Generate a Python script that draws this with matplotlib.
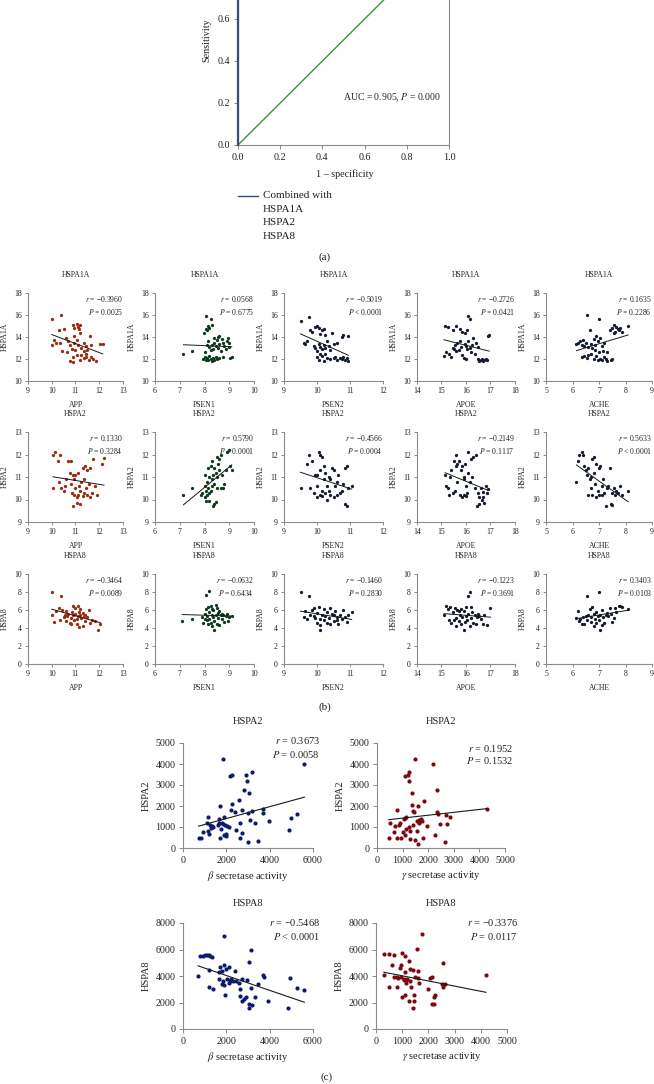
import numpy as np
import matplotlib.pyplot as plt
from matplotlib.lines import Line2D

W, H = 654, 1084
plt.rcParams['font.family'] = ['Liberation Serif', 'DejaVu Serif']
plt.rcParams['mathtext.fontset'] = 'stix'

# ---------------- data: (a) ROC ----------------
roc_fpr = [0.0, 0.0, 0.1, 0.3, 1.0]
roc_tpr = [0.0, 0.78, 0.9, 0.97, 1.0]
ref_fpr = [0.0, 1.0]
ref_tpr = [0.0, 1.0]
roc_yticks = [0.0, 0.2, 0.4, 0.6]  # upper ticks fall outside the cropped figure

# ---------------- data: (b) HSP vs gene expression ----------------
genes = ['APP', 'PSEN1', 'PSEN2', 'APOE', 'ACHE']
hsps = ['HSPA1A', 'HSPA2', 'HSPA8']
gene_xticks = [[9, 10, 11, 12, 13], [6, 7, 8, 9, 10], [9, 10, 11, 12],
               [14, 15, 16, 17, 18], [5, 6, 7, 8, 9]]
hsp_yticks = [[10, 12, 14, 16, 18], [9, 10, 11, 12, 13], [0, 2, 4, 6, 8, 10]]

hspa1a_app = [(10.0, 15.6), (10.4, 16.0), (10.3, 14.65), (10.5, 14.75), (10.1, 13.7), (10.2, 13.5),
              (10.0, 13.3), (10.35, 13.5), (10.45, 12.7), (10.6, 13.9), (10.7, 13.6), (10.75, 13.3),
              (10.65, 12.6), (10.85, 12.9), (10.75, 11.8), (10.9, 12.2), (10.9, 15.1), (10.95, 14.8),
              (11.05, 15.2), (11.1, 14.95), (11.2, 15.1), (11.15, 14.7), (11.2, 14.35), (10.95, 14.05),
              (11.05, 13.75), (10.95, 13.45), (11.1, 13.3), (11.25, 13.0), (11.0, 12.85), (11.05, 12.4),
              (11.2, 11.9), (11.35, 12.1), (11.45, 12.2), (11.55, 11.9), (11.65, 12.15), (11.75, 12.0),
              (11.85, 11.85), (11.35, 13.45), (11.45, 13.15), (11.5, 12.85), (11.35, 12.7), (11.6, 14.05),
              (11.65, 13.25), (12.05, 13.35), (12.15, 13.35), (10.9, 11.75), (11.25, 12.35), (11.45, 12.5)]
hspa1a_psen1 = [(7.15, 12.5), (7.5, 12.7), (7.95, 12.0), (8.0, 12.2), (8.05, 11.9), (8.1, 12.1),
                (8.15, 11.95), (8.2, 12.3), (8.25, 12.0), (8.3, 11.8), (8.35, 12.1), (8.4, 11.9),
                (8.45, 12.2), (8.5, 12.0), (8.6, 12.1), (8.75, 12.2), (9.05, 12.1), (9.1, 12.2),
                (7.98, 14.4), (8.05, 14.7), (8.1, 14.6), (8.15, 15.0), (8.2, 14.8), (8.05, 15.9),
                (8.25, 15.6), (8.3, 15.1), (8.2, 13.1), (8.25, 12.8), (8.3, 13.3), (8.35, 12.9),
                (8.4, 13.5), (8.45, 13.2), (8.5, 13.7), (8.55, 13.0), (8.6, 13.4), (8.55, 14.0),
                (8.6, 14.1), (8.7, 13.8), (8.75, 13.5), (8.8, 13.2), (8.9, 13.6), (8.95, 13.9),
                (9.0, 13.1), (8.85, 12.9), (8.65, 12.7), (8.1, 13.3), (8.15, 13.6), (8.0, 12.6),
                (9.0, 13.5), (8.4, 13.9)]
hspa1a_psen2 = [(9.5, 15.5), (9.75, 15.8), (9.6, 13.5), (9.65, 13.4), (9.7, 13.6), (9.8, 14.6),
                (9.85, 14.5), (9.95, 14.9), (10.0, 15.0), (10.05, 14.8), (10.1, 14.3), (10.15, 14.6),
                (10.2, 14.7), (10.25, 14.2), (9.9, 13.2), (9.95, 13.0), (10.0, 12.7), (10.05, 13.4),
                (10.1, 13.1), (10.15, 12.9), (10.2, 13.3), (10.25, 13.0), (10.3, 13.6), (10.35, 13.2),
                (10.4, 12.8), (10.45, 14.4), (10.0, 12.2), (10.05, 11.9), (10.1, 12.5), (10.15, 12.3),
                (10.3, 12.1), (10.4, 12.0), (10.5, 12.1), (10.55, 12.2), (10.6, 11.95), (10.7, 12.1),
                (10.75, 12.0), (10.8, 12.2), (10.85, 11.9), (10.9, 12.1), (10.95, 11.8), (10.6, 13.5),
                (10.75, 14.0), (10.8, 14.2), (10.95, 14.1), (10.5, 13.4), (10.25, 12.5), (10.2, 11.8)]
hspa1a_apoe = [(15.15, 15.0), (15.25, 14.9), (15.45, 14.6), (15.6, 15.0), (15.75, 14.7), (15.85, 14.5),
               (15.95, 14.4), (16.05, 14.6), (16.1, 15.9), (16.15, 15.6), (15.1, 12.3), (15.2, 12.6),
               (15.3, 12.5), (15.4, 12.2), (15.5, 12.9), (15.55, 13.3), (15.6, 12.7), (15.65, 13.5),
               (15.7, 12.8), (15.75, 13.6), (15.8, 13.1), (15.85, 12.4), (15.9, 12.1), (15.95, 13.4),
               (16.0, 13.2), (16.05, 12.9), (16.1, 13.6), (16.15, 13.0), (16.2, 12.6), (16.25, 13.3),
               (16.3, 13.9), (16.35, 12.5), (16.4, 13.5), (16.5, 12.0), (16.55, 11.8), (16.6, 11.9),
               (16.65, 12.0), (16.7, 11.85), (16.75, 11.9), (16.8, 12.0), (16.85, 11.9), (16.9, 14.1),
               (16.95, 14.2), (16.0, 12.0), (16.5, 13.1), (15.45, 13.0)]
hspa1a_ache = [(6.15, 13.4), (6.2, 13.5), (6.3, 13.6), (6.35, 13.3), (6.4, 13.7), (6.45, 13.2),
               (6.5, 13.5), (6.55, 16.0), (6.6, 13.1), (6.65, 14.6), (6.7, 13.4), (6.75, 13.0),
               (6.8, 13.8), (6.85, 13.3), (6.9, 14.1), (6.95, 13.6), (7.0, 15.6), (7.05, 13.9),
               (7.1, 13.2), (7.15, 12.7), (6.35, 12.2), (6.45, 12.3), (6.55, 12.1), (6.6, 12.4),
               (6.7, 12.5), (6.8, 12.0), (6.9, 12.3), (6.95, 11.9), (7.0, 12.6), (7.05, 12.0),
               (7.1, 11.9), (7.2, 12.2), (7.25, 12.0), (7.3, 11.8), (7.45, 11.9), (7.5, 12.0),
               (7.3, 12.6), (7.4, 14.6), (7.5, 14.8), (7.55, 15.1), (7.6, 14.5), (7.65, 14.9),
               (7.7, 14.7), (7.75, 14.6), (7.8, 14.8), (7.85, 14.5), (8.1, 15.0), (7.55, 14.4),
               (7.2, 13.5), (6.85, 12.8)]

hspa2_app = [(10.05, 12.0), (10.15, 12.1), (10.35, 12.0), (10.25, 11.7), (10.05, 10.5), (10.3, 10.8),
             (10.4, 10.5), (10.5, 10.4), (10.55, 10.6), (10.6, 10.9), (10.7, 11.7), (10.8, 11.7),
             (10.75, 11.2), (10.8, 10.7), (10.85, 10.3), (10.9, 11.1), (10.95, 10.9), (11.0, 11.1),
             (11.0, 10.5), (10.95, 10.2), (10.9, 9.7), (11.05, 9.85), (11.1, 11.2), (11.1, 10.2),
             (11.15, 10.6), (11.2, 10.4), (11.2, 9.8), (11.25, 10.8), (11.3, 11.4), (11.35, 10.3),
             (11.35, 10.9), (11.4, 11.5), (11.45, 10.5), (11.5, 11.3), (11.5, 10.2), (11.55, 10.7),
             (11.6, 11.4), (11.7, 10.3), (11.75, 11.8), (11.8, 10.6), (11.9, 10.2), (12.1, 11.6),
             (12.2, 11.85), (11.05, 10.1), (11.3, 10.15), (11.6, 10.1)]
hspa2_psen1 = [(7.15, 10.2), (7.5, 10.5), (7.85, 10.2), (7.9, 10.3), (8.0, 10.1), (8.0, 10.6),
               (8.05, 10.4), (8.1, 10.2), (8.1, 10.8), (8.15, 10.5), (8.2, 10.3), (8.2, 11.0),
               (8.25, 10.4), (8.25, 11.5), (8.3, 10.6), (8.3, 10.9), (8.35, 9.7), (8.35, 11.1),
               (8.4, 9.8), (8.4, 11.4), (8.45, 11.2), (8.45, 9.9), (8.5, 11.0), (8.5, 11.9),
               (8.55, 11.6), (8.6, 11.3), (8.6, 11.8), (8.65, 10.5), (8.7, 11.1), (8.75, 10.5),
               (8.8, 10.7), (8.85, 11.3), (8.9, 12.1), (9.0, 12.2), (9.05, 11.5), (9.1, 11.3),
               (8.0, 11.1), (8.15, 11.4), (8.05, 9.95), (8.5, 10.5), (8.4, 10.7), (8.2, 9.95),
               (8.65, 12.0), (8.3, 11.7)]
hspa2_psen2 = [(9.5, 10.5), (9.7, 11.6), (9.75, 12.0), (9.8, 10.5), (9.85, 11.7), (9.9, 10.3),
               (9.95, 11.1), (10.0, 10.6), (10.0, 11.1), (10.05, 12.1), (10.1, 12.0), (10.1, 11.3),
               (10.1, 10.2), (10.15, 11.9), (10.15, 10.4), (10.2, 11.5), (10.2, 10.9), (10.25, 10.3),
               (10.25, 11.2), (10.3, 10.0), (10.35, 10.4), (10.35, 11.0), (10.4, 10.2), (10.45, 11.4),
               (10.5, 10.1), (10.5, 11.3), (10.55, 10.6), (10.6, 10.2), (10.65, 11.1), (10.7, 10.3),
               (10.75, 10.4), (10.8, 10.7), (10.85, 11.4), (10.85, 9.8), (10.9, 11.5), (10.9, 9.7),
               (10.95, 10.5), (11.05, 10.6), (10.4, 10.9), (10.0, 10.1), (10.15, 10.15), (10.6, 10.8),
               (10.3, 10.6)]
hspa2_apoe = [(15.15, 11.1), (15.2, 10.6), (15.25, 10.5), (15.3, 10.2), (15.35, 11.0), (15.4, 11.3),
              (15.45, 10.3), (15.5, 11.7), (15.55, 10.4), (15.6, 12.0), (15.6, 11.5), (15.65, 10.8),
              (15.7, 11.7), (15.75, 10.2), (15.8, 11.3), (15.85, 11.5), (15.85, 10.1), (15.9, 11.0),
              (15.9, 10.9), (15.95, 11.6), (16.0, 10.6), (16.05, 10.3), (16.1, 12.1), (16.1, 11.2),
              (16.15, 10.8), (16.2, 11.8), (16.25, 11.0), (16.3, 11.9), (16.35, 10.5), (16.4, 12.0),
              (16.45, 9.7), (16.5, 10.3), (16.55, 10.1), (16.55, 9.8), (16.6, 10.5), (16.65, 10.0),
              (16.7, 10.1), (16.75, 9.85), (16.8, 10.6), (16.85, 10.3), (16.9, 10.45), (16.7, 10.35),
              (15.65, 11.6), (16.0, 10.15), (15.9, 10.2)]
hspa2_ache = [(6.15, 10.8), (6.2, 11.7), (6.25, 12.0), (6.35, 12.1), (6.4, 12.0), (6.45, 11.5),
              (6.5, 11.3), (6.55, 11.1), (6.6, 11.4), (6.65, 10.9), (6.7, 11.0), (6.7, 10.5),
              (6.75, 11.8), (6.75, 10.2), (6.8, 11.9), (6.8, 11.2), (6.85, 10.7), (6.9, 11.6),
              (6.95, 10.4), (7.0, 10.2), (7.0, 11.4), (7.05, 11.5), (7.1, 10.6), (7.1, 10.2),
              (7.15, 10.9), (7.2, 10.3), (7.25, 9.7), (7.3, 10.5), (7.35, 10.6), (7.4, 11.4),
              (7.45, 9.8), (7.5, 10.3), (7.5, 9.75), (7.55, 10.5), (7.6, 10.2), (7.65, 10.4),
              (7.7, 10.3), (7.8, 10.6), (7.85, 10.2), (8.1, 10.4), (6.6, 10.2), (6.9, 10.1)]

hspa8_app = [(10.0, 8.0), (10.4, 7.6), (10.0, 5.4), (10.1, 4.7), (10.2, 5.9), (10.3, 6.2),
             (10.35, 4.9), (10.45, 6.0), (10.5, 5.2), (10.55, 5.5), (10.6, 4.8), (10.65, 5.3),
             (10.7, 5.6), (10.75, 4.6), (10.8, 5.1), (10.85, 5.8), (10.9, 5.4), (10.9, 6.5),
             (10.95, 4.9), (11.0, 5.6), (11.0, 6.2), (11.05, 5.0), (11.1, 6.4), (11.1, 5.3),
             (11.15, 5.8), (11.15, 4.1), (11.2, 5.5), (11.2, 6.1), (11.25, 5.1), (11.3, 4.2),
             (11.3, 5.7), (11.35, 5.3), (11.4, 4.8), (11.5, 5.2), (11.55, 6.0), (11.6, 4.6),
             (11.7, 4.9), (11.8, 4.8), (11.95, 3.8), (12.05, 4.4), (10.8, 4.5), (11.4, 5.5),
             (10.6, 5.9), (11.05, 4.5)]
hspa8_psen1 = [(7.1, 4.75), (7.5, 5.0), (8.05, 7.7), (8.2, 8.1), (7.9, 5.2), (7.95, 4.6),
               (8.0, 5.6), (8.05, 6.1), (8.1, 4.9), (8.1, 5.3), (8.15, 6.3), (8.15, 4.4),
               (8.2, 5.8), (8.2, 5.0), (8.25, 4.6), (8.25, 6.4), (8.3, 5.5), (8.3, 4.2),
               (8.35, 6.0), (8.35, 5.2), (8.4, 3.8), (8.4, 4.8), (8.45, 6.6), (8.45, 5.4),
               (8.5, 4.5), (8.5, 6.2), (8.55, 5.1), (8.6, 5.9), (8.6, 4.3), (8.65, 5.5),
               (8.7, 5.0), (8.75, 5.4), (8.8, 4.7), (8.85, 5.3), (8.9, 5.6), (8.95, 4.8),
               (9.0, 5.2), (9.1, 5.3), (8.0, 5.0), (8.3, 6.1), (8.55, 5.7), (8.7, 5.6)]
hspa8_psen2 = [(9.5, 8.0), (9.75, 7.6), (9.6, 5.2), (9.65, 5.9), (9.7, 5.0), (9.8, 5.4),
               (9.85, 6.0), (9.9, 6.2), (9.95, 5.1), (10.0, 4.6), (10.0, 5.7), (10.05, 6.3),
               (10.1, 4.3), (10.1, 3.8), (10.15, 5.5), (10.2, 4.9), (10.2, 6.1), (10.25, 5.3),
               (10.3, 4.6), (10.3, 5.8), (10.35, 5.1), (10.4, 4.4), (10.4, 6.2), (10.45, 5.6),
               (10.5, 4.8), (10.5, 5.4), (10.55, 5.9), (10.6, 5.2), (10.65, 4.5), (10.7, 5.5),
               (10.75, 5.0), (10.8, 6.0), (10.85, 5.2), (10.9, 4.7), (10.95, 5.5), (11.05, 5.8),
               (10.1, 5.0), (10.6, 4.9), (9.9, 5.3)]
hspa8_apoe = [(15.1, 5.5), (15.2, 6.4), (15.25, 6.1), (15.3, 4.9), (15.35, 6.3), (15.4, 4.6),
              (15.45, 5.8), (15.5, 4.9), (15.55, 6.2), (15.6, 4.2), (15.6, 5.1), (15.65, 6.0),
              (15.7, 4.8), (15.75, 5.5), (15.8, 6.1), (15.8, 4.5), (15.85, 5.2), (15.9, 3.8),
              (15.9, 5.9), (15.95, 4.7), (16.0, 5.3), (16.0, 6.3), (16.05, 4.9), (16.1, 7.6),
              (16.1, 5.6), (16.15, 8.0), (16.15, 4.2), (16.2, 5.1), (16.25, 5.8), (16.3, 4.6),
              (16.35, 5.4), (16.4, 4.4), (16.45, 5.2), (16.5, 5.6), (16.55, 5.3), (16.6, 5.0),
              (16.7, 4.5), (16.75, 5.4), (16.85, 4.3), (17.0, 6.2), (16.2, 6.3), (15.7, 5.9)]
hspa8_ache = [(6.15, 5.1), (6.2, 5.9), (6.25, 4.8), (6.3, 5.0), (6.35, 4.5), (6.4, 5.2),
              (6.45, 4.4), (6.5, 5.3), (6.55, 7.6), (6.55, 4.9), (6.6, 5.5), (6.65, 6.1),
              (6.7, 4.7), (6.7, 5.2), (6.75, 6.3), (6.8, 4.2), (6.8, 5.6), (6.85, 5.0),
              (6.9, 4.6), (6.9, 5.8), (6.95, 5.3), (7.0, 8.0), (7.0, 4.9), (7.05, 3.8),
              (7.05, 5.5), (7.1, 4.3), (7.1, 6.0), (7.15, 5.2), (7.2, 4.6), (7.25, 5.4),
              (7.3, 5.7), (7.35, 5.3), (7.4, 6.2), (7.5, 4.7), (7.55, 5.1), (7.6, 6.2),
              (7.65, 5.8), (7.75, 6.4), (7.8, 6.5), (7.85, 6.3), (8.1, 6.1), (7.45, 5.6)]

b_points = [[hspa1a_app, hspa1a_psen1, hspa1a_psen2, hspa1a_apoe, hspa1a_ache],
            [hspa2_app, hspa2_psen1, hspa2_psen2, hspa2_apoe, hspa2_ache],
            [hspa8_app, hspa8_psen1, hspa8_psen2, hspa8_apoe, hspa8_ache]]
b_r = [['−0.3960', '0.0568', '−0.5019', '−0.2726', '0.1635'],
       ['0.1330', '0.5790', '−0.4566', '−0.2149', '0.5633'],
       ['−0.3464', '−0.0632', '−0.1460', '−0.1223', '0.3403']]
b_p = [['= 0.0025', '= 0.6775', '< 0.0001', '= 0.0421', '= 0.2286'],
       ['= 0.3284', '< 0.0001', '= 0.0004', '= 0.1117', '< 0.0001'],
       ['= 0.0089', '= 0.6434', '= 0.2830', '= 0.3691', '= 0.0103']]

# ---------------- data: (c) HSP vs secretase activity ----------------
beta_hspa2 = [(720, 500), (850, 500), (900, 780), (1100, 1200), (1150, 800), (1150, 1500), (1200, 650),
              (1250, 1100), (1300, 950), (1350, 1050), (1400, 1000), (1650, 1200), (1650, 1400),
              (1700, 480), (1700, 2000), (1750, 900), (1800, 1200), (1850, 4250), (1900, 1500),
              (1900, 600), (1950, 1100), (2000, 550), (2000, 650), (2100, 1000), (2150, 3450),
              (2200, 1800), (2250, 3500), (2250, 2100), (2400, 1700), (2450, 850), (2600, 2300),
              (2650, 1200), (2650, 500), (2700, 700), (2700, 1800), (2800, 2750), (2900, 3500),
              (2950, 3200), (3000, 300), (3000, 1650), (3050, 2600), (3100, 1350), (3200, 3600),
              (3200, 1750), (3300, 1200), (3450, 350), (3700, 1850), (3700, 1650), (3950, 1300),
              (4900, 850), (5000, 1450), (5250, 1600), (5600, 4000), (1850, 1150), (2050, 1050),
              (1600, 1100)]
gamma_hspa2 = [(460, 480), (500, 1200), (650, 750), (700, 1050), (800, 500), (800, 1800), (850, 1100),
               (900, 1200), (950, 500), (1000, 750), (1050, 1400), (1100, 3450), (1100, 600),
               (1150, 1500), (1150, 900), (1200, 3500), (1250, 3600), (1250, 3200), (1250, 1000),
               (1300, 450), (1300, 800), (1350, 2600), (1350, 2050), (1400, 1750), (1400, 1100),
               (1450, 1700), (1500, 4250), (1500, 400), (1550, 1300), (1550, 800), (1600, 2000),
               (1600, 200), (1650, 1200), (1700, 1400), (1750, 1300), (1800, 500), (1850, 2250),
               (1950, 1050), (2200, 4000), (2250, 600), (2350, 2750), (2350, 1700), (2400, 1600),
               (2450, 1150), (2650, 300), (2700, 1550), (2750, 1150), (2850, 1500), (4300, 1850),
               (1100, 1450), (1650, 1350)]
beta_hspa8 = [(700, 4000), (800, 5500), (900, 5500), (1000, 5550), (1100, 5600), (1200, 5600),
              (1250, 5500), (1350, 5400), (1200, 4450), (1200, 3200), (1400, 3050), (1650, 3800),
              (1650, 4300), (1700, 4700), (1800, 4400), (1850, 3600), (1900, 4850), (1900, 7050),
              (1900, 3300), (1950, 2550), (2000, 4500), (2050, 3800), (2100, 4700), (2150, 3650),
              (2200, 3800), (2300, 3600), (2400, 4400), (2450, 3600), (2600, 3500), (2650, 3050),
              (2650, 2500), (2700, 2100), (2700, 3800), (2800, 2300), (2900, 2400), (2950, 3700),
              (3050, 1900), (3050, 1600), (3050, 5050), (3150, 5950), (3150, 3100), (3200, 1800),
              (3300, 2450), (3450, 3400), (3700, 4050), (3750, 3900), (3900, 2100), (4850, 1550),
              (4950, 3850), (5250, 3100), (5600, 2950), (2100, 3500), (1800, 3400)]
gamma_hspa8 = [(300, 4050), (300, 5650), (500, 5650), (500, 3150), (600, 4800), (700, 3900),
               (700, 5600), (800, 3200), (850, 3850), (900, 4600), (950, 4800), (950, 3900),
               (1000, 5700), (1000, 2400), (1050, 3700), (1100, 2600), (1100, 5500), (1100, 4300),
               (1150, 3700), (1200, 3800), (1250, 5150), (1250, 2100), (1300, 4500), (1300, 3600),
               (1350, 3150), (1400, 1600), (1400, 4450), (1450, 2600), (1450, 2100), (1500, 3900),
               (1550, 6050), (1600, 3850), (1600, 4400), (1650, 3500), (1750, 7150), (2000, 3000),
               (2050, 3850), (2150, 1850), (2150, 3900), (2200, 1900), (2200, 2400), (2250, 2550),
               (2500, 3400), (2550, 3150), (2550, 5000), (2650, 3400), (4200, 4100), (800, 3900),
               (1150, 3500), (1050, 3750)]

c_points = [[beta_hspa2, gamma_hspa2], [beta_hspa8, gamma_hspa8]]
c_hsps = ['HSPA2', 'HSPA8']
c_xlabels = [r'$\beta$ secretase activity', r'$\gamma$ secretase activity']
c_xticks = [[0, 2000, 4000, 6000], [0, 1000, 2000, 3000, 4000, 5000]]
c_yticks = [[0, 1000, 2000, 3000, 4000, 5000], [0, 2000, 4000, 6000, 8000]]
c_r = [['0.3673', '0.1952'], ['−0.5468', '−0.3376']]
c_p = [['= 0.0058', '= 0.1532'], ['< 0.0001', '= 0.0117']]

gene_colors = ['#9B2A0E', '#0E3A1C', '#141A30', '#141A30', '#141A30']
c_colors = ['#0D1A6E', '#7A0A0E']
spine_col = '#8a8a8a'
text_col = '#222222'


def px_axes(fig, l, t, r, b):
    return fig.add_axes([l / W, 1 - b / H, (r - l) / W, (b - t) / H])


def px_text(fig, x, y, s, **kw):
    fig.text(x / W, 1 - y / H, s, color=text_col, **kw)


def style(ax, fs, tl=2.5, pad=1.5):
    for side in ['top', 'right']:
        ax.spines[side].set_visible(False)
    for side in ['left', 'bottom']:
        ax.spines[side].set_color(spine_col)
        ax.spines[side].set_linewidth(0.8)
    ax.tick_params(direction='out', length=tl, width=0.7, colors=spine_col,
                   labelcolor=text_col, labelsize=fs, pad=pad)


fig = plt.figure(figsize=(W / 100, H / 100), dpi=100)

# ---------------- (a) ----------------
ax = px_axes(fig, 238, -65, 449, 145)
ax.plot(ref_fpr, ref_tpr, color='#2F9A3C', lw=1.0)
ax.plot(roc_fpr, roc_tpr, color='#3E4A7E', lw=1.6, clip_on=False, zorder=5)
ax.set_xlim(0, 1)
ax.set_ylim(0, 1)
style(ax, 7.3, tl=3, pad=2.5)
ax.spines['right'].set_visible(True)
ax.spines['right'].set_color(spine_col)
ax.set_xticks(np.arange(0, 1.01, 0.2))
ax.set_yticks(roc_yticks)
ax.xaxis.set_major_formatter(plt.FormatStrFormatter('%.1f'))
ax.yaxis.set_major_formatter(plt.FormatStrFormatter('%.1f'))
ax.text(0.96, 0.226, 'AUC = 0.905, $P$ = 0.000', transform=ax.transAxes,
        ha='right', va='center', fontsize=7, color=text_col)
px_text(fig, 345, 174, '1 – specificity', ha='center', va='center', fontsize=7.3)
px_text(fig, 207, 40, 'Sensitivity', ha='center', va='center', fontsize=7.3, rotation=90)
fig.add_artist(Line2D([238 / W, 258 / W], [1 - 196 / H, 1 - 196 / H], color='#3C4A8C', lw=1.0))
for k, s in enumerate(['Combined with', 'HSPA1A', 'HSPA2', 'HSPA8']):
    px_text(fig, 263, 196 + 13.5 * k, s, ha='left', va='center', fontsize=8)
px_text(fig, 325, 257, '(a)', ha='center', va='center', fontsize=8)

# ---------------- (b) ----------------
col_l = [28, 155, 284, 417, 546]
col_r = [123, 254, 383, 515, 652]
row_t = [293, 432, 574]
row_b = [381, 522, 664]
for i, h in enumerate(hsps):
    for j, g in enumerate(genes):
        ax = px_axes(fig, col_l[j], row_t[i], col_r[j], row_b[i])
        x, y = np.array(b_points[i][j], dtype=float).T
        ax.scatter(x, y, s=5.5, color=gene_colors[j], linewidths=0, zorder=3)
        k, c = np.polyfit(x, y, 1)
        xs = np.array([x.min(), x.max()])
        ax.plot(xs, k * xs + c, color='#1a1a1a', lw=0.7, zorder=4)
        xt, yt = gene_xticks[j], hsp_yticks[i]
        ax.set_xlim(xt[0], xt[-1])
        ax.set_ylim(yt[0], yt[-1])
        ax.set_xticks(xt)
        ax.set_yticks(yt)
        style(ax, 5.6, tl=2.2, pad=2.2)
        ax.set_xlabel(g, fontsize=5.6, labelpad=4, color=text_col)
        ax.set_ylabel(h, fontsize=5.6, labelpad=4, color=text_col)
        cx = (col_l[j] + col_r[j]) / 2
        px_text(fig, cx, row_t[i] - 18, h, ha='center', va='center', fontsize=5.6)
        ax.text(1.0, 0.99, '$r$ = ' + b_r[i][j] + '\n$P$ ' + b_p[i][j], transform=ax.transAxes,
                ha='right', va='top', fontsize=5.5, color=text_col, linespacing=1.35)
px_text(fig, 325, 707, '(b)', ha='center', va='center', fontsize=8)

# ---------------- (c) ----------------
c_l = [[183, 377], [183, 376]]
c_r_px = [[313, 505], [313, 507]]
c_t = [743, 923]
c_b = [848, 1029]
c_title_y = [722, 903]
c_stat_x = [[320, 513], [320, 518]]
c_stat_y = [[741, 748], [923, 923]]
for i, h in enumerate(c_hsps):
    for j in range(2):
        ax = px_axes(fig, c_l[i][j], c_t[i], c_r_px[i][j], c_b[i])
        x, y = np.array(c_points[i][j], dtype=float).T
        ax.scatter(x, y, s=9, color=c_colors[j], linewidths=0, zorder=3)
        k, c = np.polyfit(x, y, 1)
        xs = np.array([x.min(), x.max()])
        ax.plot(xs, k * xs + c, color='#1a1a1a', lw=0.8, zorder=4)
        xt, yt = c_xticks[j], c_yticks[i]
        ax.set_xlim(xt[0], xt[-1])
        ax.set_ylim(yt[0], yt[-1])
        ax.set_xticks(xt)
        ax.set_yticks(yt)
        style(ax, 7.2, tl=3, pad=2.5)
        ax.set_xlabel(c_xlabels[j], fontsize=7.5, labelpad=3, color=text_col)
        ax.set_ylabel(h, fontsize=7.5, labelpad=3, color=text_col)
        cx = (c_l[i][j] + c_r_px[i][j]) / 2
        px_text(fig, cx, c_title_y[i], h, ha='center', va='center', fontsize=7.5)
        px_text(fig, c_stat_x[i][j], c_stat_y[i][j], '$r$ = ' + c_r[i][j], ha='right', va='center', fontsize=7.5)
        px_text(fig, c_stat_x[i][j], c_stat_y[i][j] + 13, '$P$ ' + c_p[i][j], ha='right', va='center', fontsize=7.5)
px_text(fig, 327, 1077, '(c)', ha='center', va='center', fontsize=8)

fig.savefig('out.png', dpi=100)
